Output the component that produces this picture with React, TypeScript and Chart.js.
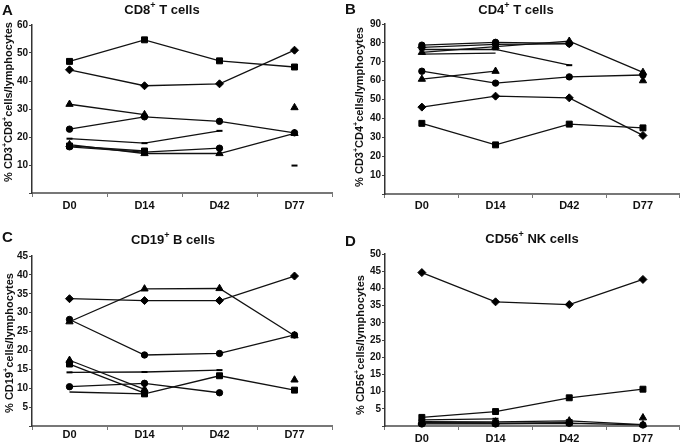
import React, { useEffect, useRef } from 'react';
import { Chart, registerables } from 'chart.js';

Chart.register(...registerables);

const FONT = "Arial, 'Liberation Sans', Helvetica, sans-serif";

const categories = ['D0', 'D14', 'D42', 'D77'];

// Panel A: CD8+ T cells
const aSquareHigh = [47, 54.7, 47.2, 45];
const aDiamondHigh = [44, 38.3, 39, 51];
const aTriangleMid = [31.7, 28, null, 30.5];
const aCircleMid = [22.8, 27.2, 25.6, 21.5];
const aDashMid = [19.4, 17.8, 22.2, null];
const aSquareLow = [16.8, 15, null, null];
const aTriangleLow = [17.3, 14.1, 14.1, 21.3];
const aCircleLow = [16.5, 14.6, 16, null];
const aDashLone = [null, null, null, 9.8];
const aTicks = { max: 60, step: 10 };

// Panel B: CD4+ T cells
const bSquare = [37.4, 26, 37, 35];
const bDiamond = [46, 51.8, 50.9, 31];
const bCircleMid = [65, 58.7, 62, 63];
const bTriangleMid = [60.8, 65, null, 60];
const bCircleTop = [78.8, 80.3, 79.7, null];
const bDiamondTop = [77.6, 79.2, 79.5, null];
const bTriangleTop = [75, 78, 80.9, 64.4];
const bDashTop = [76.5, 76.6, 68.2, null];
const bPlainTop = [74, 74.6, null, null];
const bTicks = { max: 90, step: 10 };

// Panel C: CD19+ B cells
const cDiamond = [33.7, 33.2, 33.2, 39.7];
const cTriangle = [27.6, 36.3, 36.4, 23.9];
const cCircle = [28.2, 18.8, 19.2, 24.1];
const cDash = [14.2, 14.3, 14.8, null];
const cTriangleLow = [17.4, 9.7, null, 12.2];
const cSquareLow = [16.4, 8.7, null, null];
const cCircleLow = [10.4, 11.3, 8.8, null];
const cSquareMix = [9.0, 8.5, 13.3, 9.5];
const cTicks = { max: 45, step: 5 };

// Panel D: CD56+ NK cells
const dDiamond = [44.6, 36.1, 35.3, 42.6];
const dSquare = [2.5, 4.2, 8.2, 10.7];
const dDash = [1.8, 2.1, null, null];
const dTriangle = [1.3, 1.2, 1.5, 0.4];
const dTriangle2 = [1.0, 0.9, null, 2.4];
const dCircle = [0.6, 0.6, 0.8, 0.3];
const dSquareLow = [0.9, 0.8, 1.0, null];
const dTicks = { max: 50, step: 5 };

type Marker = 'rect' | 'rectRot' | 'triangle' | 'circle' | 'line' | 'none';

const RADIUS: Record<Marker, number> = {
  rect: 4.2,
  rectRot: 4,
  triangle: 4.2,
  circle: 3.2,
  line: 3,
  none: 0,
};

function series(data: (number | null)[], marker: Marker, radii?: number[]) {
  return {
    data,
    borderColor: '#111',
    borderWidth: 1.3,
    backgroundColor: '#000',
    pointBackgroundColor: '#000',
    pointBorderColor: '#000',
    pointBorderWidth: marker === 'line' ? 2 : 1,
    pointStyle: marker === 'none' ? 'circle' : marker,
    pointRadius: radii ?? RADIUS[marker],
    pointHoverRadius: radii ?? RADIUS[marker],
    tension: 0,
    spanGaps: false,
    clip: false as any,
  };
}

type Box = { left: number; top: number; width: number; height: number };
type Area = { left: number; top: number; right: number; bottom: number };

interface PanelDef {
  letter: string;
  title: string;
  yTitle: string;
  yMax: number;
  yStep: number;
  box: Box;
  area: Area;
  letterAt: { x: number; y: number };
  titleAt: { x: number; y: number };
  yTitleAt: { x: number; y: number };
  xPad: number;
  datasets: any[];
}

const panels: PanelDef[] = [
  {
    letter: 'A',
    title: 'CD8⁺ T cells',
    yTitle: '% CD3⁺CD8⁺cells/lymphocytes',
    yMax: aTicks.max,
    yStep: aTicks.step,
    box: { left: 0, top: 0, width: 342, height: 222 },
    area: { left: 32, top: 25, right: 332, bottom: 193 },
    letterAt: { x: 2, y: 15 },
    titleAt: { x: 162, y: 10 },
    yTitleAt: { x: 9, y: 102 },
    xPad: 2,
    datasets: [
      series(aSquareHigh, 'rect'),
      series(aDiamondHigh, 'rectRot'),
      series(aTriangleMid, 'triangle'),
      series(aCircleMid, 'circle'),
      series(aDashMid, 'line'),
      series(aSquareLow, 'rect'),
      series(aTriangleLow, 'triangle'),
      series(aCircleLow, 'circle'),
      series(aDashLone, 'line'),
    ],
  },
  {
    letter: 'B',
    title: 'CD4⁺ T cells',
    yTitle: '% CD3⁺CD4⁺cells/lymphocytes',
    yMax: bTicks.max,
    yStep: bTicks.step,
    box: { left: 342, top: 0, width: 343, height: 222 },
    area: { left: 385, top: 24, right: 685, bottom: 194 },
    letterAt: { x: 345, y: 14 },
    titleAt: { x: 516, y: 10 },
    yTitleAt: { x: 360, y: 107 },
    xPad: 1,
    datasets: [
      series(bSquare, 'rect'),
      series(bDiamond, 'rectRot'),
      series(bCircleMid, 'circle'),
      series(bTriangleMid, 'triangle'),
      series(bCircleTop, 'circle'),
      series(bDiamondTop, 'rectRot'),
      series(bTriangleTop, 'triangle'),
      series(bDashTop, 'line'),
      series(bPlainTop, 'none'),
    ],
  },
  {
    letter: 'C',
    title: 'CD19⁺ B cells',
    yTitle: '% CD19⁺cells/lymphocytes',
    yMax: cTicks.max,
    yStep: cTicks.step,
    box: { left: 0, top: 222, width: 342, height: 223 },
    area: { left: 32, top: 256, right: 332, bottom: 426 },
    letterAt: { x: 2, y: 242 },
    titleAt: { x: 173, y: 240 },
    yTitleAt: { x: 10, y: 343 },
    xPad: -2,
    datasets: [
      series(cDiamond, 'rectRot'),
      series(cTriangle, 'triangle'),
      series(cCircle, 'circle'),
      series(cDash, 'line'),
      series(cTriangleLow, 'triangle'),
      series(cSquareLow, 'rect'),
      series(cCircleLow, 'circle'),
      series(cSquareMix, 'rect', [0, 4.2, 4.2, 4.2]),
    ],
  },
  {
    letter: 'D',
    title: 'CD56⁺ NK cells',
    yTitle: '% CD56⁺cells/lymphocytes',
    yMax: dTicks.max,
    yStep: dTicks.step,
    box: { left: 342, top: 222, width: 343, height: 223 },
    area: { left: 385, top: 254, right: 685, bottom: 426 },
    letterAt: { x: 345, y: 246 },
    titleAt: { x: 532, y: 239 },
    yTitleAt: { x: 361, y: 345 },
    xPad: 2,
    datasets: [
      series(dDiamond, 'rectRot'),
      series(dSquare, 'rect'),
      series(dDash, 'line'),
      series(dTriangle, 'triangle'),
      series(dTriangle2, 'triangle'),
      series(dCircle, 'circle'),
      series(dSquareLow, 'rect'),
    ],
  },
];

function drawRich(ctx: CanvasRenderingContext2D, text: string, x: number, y: number, size: number) {
  const parts: { t: string; sup: boolean }[] = [];
  let buf = '';
  for (const ch of text) {
    if (ch === '⁺') {
      if (buf) parts.push({ t: buf, sup: false });
      buf = '';
      parts.push({ t: '+', sup: true });
    } else {
      buf += ch;
    }
  }
  if (buf) parts.push({ t: buf, sup: false });
  const normal = `bold ${size}px ${FONT}`;
  const small = `bold ${Math.round(size * 0.68)}px ${FONT}`;
  let total = 0;
  for (const p of parts) {
    ctx.font = p.sup ? small : normal;
    total += ctx.measureText(p.t).width;
  }
  let cx = x - total / 2;
  ctx.textAlign = 'left';
  ctx.textBaseline = 'middle';
  for (const p of parts) {
    ctx.font = p.sup ? small : normal;
    ctx.fillText(p.t, cx, p.sup ? y - size * 0.32 : y);
    cx += ctx.measureText(p.t).width;
  }
}

function makeTextPlugin(p: PanelDef) {
  return {
    id: 'panelText' + p.letter,
    afterDraw(chart: any) {
      const ctx: CanvasRenderingContext2D = chart.ctx;
      const ox = p.box.left;
      const oy = p.box.top;
      ctx.save();
      ctx.fillStyle = '#111';
      ctx.font = `bold 15px ${FONT}`;
      ctx.textAlign = 'left';
      ctx.textBaseline = 'alphabetic';
      ctx.fillText(p.letter, p.letterAt.x - ox, p.letterAt.y - oy);
      drawRich(ctx, p.title, p.titleAt.x - ox, p.titleAt.y - oy, 13);
      ctx.translate(p.yTitleAt.x - ox, p.yTitleAt.y - oy);
      ctx.rotate(-Math.PI / 2);
      drawRich(ctx, p.yTitle, 0, 0, 11);
      ctx.restore();
    },
  };
}

function Panel({ p }: { p: PanelDef }) {
  const ref = useRef<HTMLCanvasElement>(null);
  useEffect(() => {
    const canvas = ref.current;
    if (!canvas) return;
    const chart = new Chart(canvas, {
      type: 'line',
      data: { labels: categories, datasets: p.datasets },
      options: {
        responsive: false,
        animation: false,
        devicePixelRatio: 1,
        events: [],
        layout: {
          padding: {
            top: p.area.top - p.box.top,
            right: p.box.left + p.box.width - p.area.right,
            left: 0,
            bottom: 0,
          },
        },
        plugins: {
          legend: { display: false },
          tooltip: { enabled: false },
          title: { display: false },
        },
        scales: {
          x: {
            type: 'category',
            offset: true,
            grid: {
              offset: true,
              drawOnChartArea: false,
              drawTicks: true,
              tickLength: 4,
              color: '#777',
              lineWidth: 1,
            },
            border: { display: true, color: '#777', width: 2 },
            ticks: {
              color: '#111',
              font: { family: FONT, size: 11, weight: 'bold' },
              padding: p.xPad,
              maxRotation: 0,
              autoSkip: false,
            },
            afterFit: (s: any) => {
              s.height = p.box.top + p.box.height - p.area.bottom;
            },
          },
          y: {
            min: 0,
            max: p.yMax,
            ticks: {
              stepSize: p.yStep,
              color: '#111',
              font: { family: FONT, size: 10, weight: 'bold' },
              padding: 1,
              callback: (v: any) => (Number(v) === 0 ? '' : String(v)),
            },
            grid: { drawOnChartArea: false, tickLength: 3, color: '#444' },
            border: { display: true, color: '#333', width: 1.5 },
            afterFit: (s: any) => {
              s.width = p.area.left - p.box.left;
            },
          },
        },
      } as any,
      plugins: [makeTextPlugin(p)],
    });
    return () => chart.destroy();
  }, [p]);
  return (
    <div
      style={{
        position: 'absolute',
        left: p.box.left,
        top: p.box.top,
        width: p.box.width,
        height: p.box.height,
      }}
    >
      <canvas
        ref={ref}
        width={p.box.width}
        height={p.box.height}
        style={{ display: 'block', width: p.box.width, height: p.box.height }}
      />
    </div>
  );
}

export default function App() {
  return (
    <div
      style={{
        position: 'fixed',
        left: 0,
        top: 0,
        width: 685,
        height: 445,
        background: '#ffffff',
        overflow: 'hidden',
      }}
    >
      {panels.map((p) => (
        <Panel key={p.letter} p={p} />
      ))}
    </div>
  );
}
